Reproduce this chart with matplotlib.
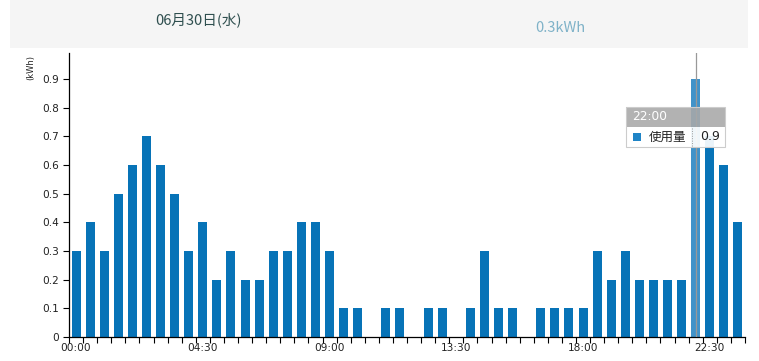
import matplotlib
matplotlib.use("Agg")
import matplotlib.pyplot as plt
from matplotlib.patches import Rectangle
from matplotlib.lines import Line2D

plt.rcParams['font.family'] = ['Noto Sans CJK JP', 'DejaVu Sans']

times = [f"{h:02d}:{m:02d}" for h in range(24) for m in (0, 30)]
usage = [0.3, 0.4, 0.3, 0.5, 0.6, 0.7, 0.6, 0.5, 0.3, 0.4,
         0.2, 0.3, 0.2, 0.2, 0.3, 0.3, 0.4, 0.4, 0.3, 0.1,
         0.1, 0.0, 0.1, 0.1, 0.0, 0.1, 0.1, 0.0, 0.1, 0.3,
         0.1, 0.1, 0.0, 0.1, 0.1, 0.1, 0.1, 0.3, 0.2, 0.3,
         0.2, 0.2, 0.2, 0.2, 0.9, 0.7, 0.6, 0.4]
yticks = [0, 0.1, 0.2, 0.3, 0.4, 0.5, 0.6, 0.7, 0.8, 0.9]
label_every = 9
title_text = "06月30日(水)"
total_text = "0.3kWh"
unit_text = "(kWh)"
series_name = "使用量"
hover_index = 44

W, H = 759, 361
fig = plt.figure(figsize=(W / 100, H / 100), dpi=100)

def fx(px):
    return px / W

def fy(py):
    return 1 - py / H

tick_font = ['DejaVu Sans']

# header band
fig.patches.append(Rectangle((fx(10), fy(48)), fx(748) - fx(10), fy(0) - fy(48),
                             transform=fig.transFigure, facecolor='#f5f5f5',
                             edgecolor='none', zorder=0))
fig.text(fx(199), fy(20), title_text, ha='center', va='center', fontsize=10.5,
         color='#2f4f4f')
fig.text(fx(560), fy(28), total_text, ha='center', va='center', fontsize=10.5,
         color='#7fb2c8')

ax = fig.add_axes([fx(69), fy(337), fx(745) - fx(69), fy(53) - fy(337)])
x = list(range(len(times)))
colors = ['#4193c9' if i == hover_index else '#0773b7' for i in x]
ax.bar(x, usage, width=0.64, color=colors, zorder=2)
ax.set_xlim(-0.5, len(times) - 0.5)
ax.set_ylim(0, 0.99)

ax.set_yticks(yticks)
ax.set_yticklabels(["0" if v == 0 else f"{v:.1f}" for v in yticks], family=tick_font)
ax.set_xticks([i - 0.5 for i in range(len(times) + 1)])
ax.set_xticklabels([])
ax.set_xticks(list(range(0, len(times), label_every)), minor=True)
ax.set_xticklabels([times[i] for i in range(0, len(times), label_every)], minor=True,
                   family=tick_font)
ax.tick_params(axis='x', which='major', length=4, width=0.8, direction='out')
ax.tick_params(axis='x', which='minor', length=0, labelsize=7.6, pad=4, labelcolor='#222222')
ax.tick_params(axis='y', length=4, width=0.8, labelsize=7.6, pad=3, labelcolor='#222222')
for s in ('top', 'right'):
    ax.spines[s].set_visible(False)
ax.spines['left'].set_linewidth(0.9)
ax.spines['bottom'].set_linewidth(0.9)
ax.set_facecolor('white')

fig.text(fx(31), fy(68), unit_text, rotation=90, ha='center', va='center',
         fontsize=6, color='#222222', family=tick_font)

# hover cursor line
ax.axvline(hover_index, color='#999999', lw=0.9, zorder=3)

# tooltip
tl, tr, tt, tm, tb = 626, 725, 107, 127, 147
fig.patches.append(Rectangle((fx(tl), fy(tm)), fx(tr) - fx(tl), fy(tt) - fy(tm),
                             transform=fig.transFigure, facecolor='#a8a8a8',
                             alpha=0.88, edgecolor='none', zorder=5))
fig.patches.append(Rectangle((fx(tl), fy(tb)), fx(tr) - fx(tl), fy(tm) - fy(tb),
                             transform=fig.transFigure, facecolor='white',
                             alpha=0.92, edgecolor='none', zorder=5))
fig.patches.append(Rectangle((fx(tl), fy(tb)), fx(tr) - fx(tl), fy(tt) - fy(tb),
                             transform=fig.transFigure, facecolor='none',
                             edgecolor='#cccccc', lw=0.8, zorder=6))
fig.patches.append(Rectangle((fx(633), fy(141)), fx(641) - fx(633), fy(133) - fy(141),
                             transform=fig.transFigure, facecolor='#1f84c6',
                             edgecolor='none', zorder=7))
fig.lines.append(Line2D([fx(692), fx(692)], [fy(128), fy(146)], transform=fig.transFigure,
                        color='#999999', lw=0.7, ls=(0, (1, 1.5)), zorder=7))
fig.text(fx(632), fy(117), times[hover_index], ha='left', va='center', fontsize=8.8,
         color='white', zorder=8, family=tick_font)
fig.text(fx(649), fy(137), series_name, ha='left', va='center', fontsize=9,
         color='#222222', zorder=8)
fig.text(fx(700), fy(137), f"{usage[hover_index]:.1f}", ha='left', va='center',
         fontsize=9, color='#222222', zorder=8, family=tick_font)

fig.savefig("out.png", dpi=100)
